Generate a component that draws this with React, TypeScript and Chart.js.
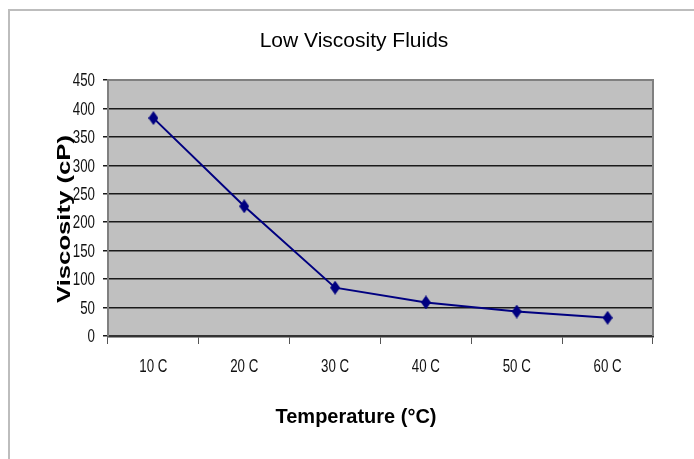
import React, { useEffect, useRef } from "react";
import { Chart, registerables } from "chart.js";

Chart.register(...registerables);

const chartTitle = "Low Viscosity Fluids";
const xAxisTitle = "Temperature (°C)";
const yAxisTitle = "Viscosity (cP)";
const categories = ["10 C", "20 C", "30 C", "40 C", "50 C", "60 C"];
const viscosity = [383, 228, 85, 59, 43, 32];
const yMin = 0;
const yMax = 450;
const yStep = 50;

const SANS = "'Liberation Sans', Arial, sans-serif";

function makeDiamond(): HTMLCanvasElement {
  const c = document.createElement("canvas");
  c.width = 10;
  c.height = 14;
  const g = c.getContext("2d")!;
  g.fillStyle = "#000080";
  g.beginPath();
  g.moveTo(5, 0);
  g.lineTo(10, 7);
  g.lineTo(5, 14);
  g.lineTo(0, 7);
  g.closePath();
  g.fill();
  return c;
}

function drawNarrow(ctx: CanvasRenderingContext2D, text: string, x: number, y: number, align: "right" | "center", sx: number) {
  ctx.save();
  ctx.translate(x, y);
  ctx.scale(sx, 1);
  ctx.textAlign = align;
  ctx.fillText(text, 0, 0);
  ctx.restore();
}

const decorPlugin = {
  id: "decor",
  beforeDraw(chart: any) {
    const { ctx, chartArea } = chart;
    ctx.save();
    ctx.fillStyle = "#c0c0c0";
    ctx.fillRect(chartArea.left, chartArea.top, chartArea.right - chartArea.left, chartArea.bottom - chartArea.top);
    ctx.restore();
  },
  afterDraw(chart: any) {
    const { ctx, chartArea } = chart;
    const xs = chart.scales.x;
    const ys = chart.scales.y;
    ctx.save();
    // plot frame (top, right)
    ctx.strokeStyle = "#808080";
    ctx.lineWidth = 2;
    ctx.beginPath();
    ctx.moveTo(chartArea.left, chartArea.top);
    ctx.lineTo(chartArea.right, chartArea.top);
    ctx.lineTo(chartArea.right, chartArea.bottom);
    ctx.stroke();

    // tick labels (condensed)
    ctx.fillStyle = "#111";
    ctx.font = `19px ${SANS}`;
    ctx.textBaseline = "middle";
    ys.ticks.forEach((t: any) => {
      const py = ys.getPixelForValue(t.value);
      drawNarrow(ctx, String(t.value), chartArea.left - 13, py + 1, "right", 0.7);
    });
    categories.forEach((lab, i) => {
      const px = xs.getPixelForValue(i);
      drawNarrow(ctx, lab, px, 367, "center", 0.7);
    });

    ctx.fillStyle = "#000";
    ctx.textBaseline = "alphabetic";
    // chart title
    ctx.font = `21px ${SANS}`;
    ctx.textAlign = "center";
    ctx.fillText(chartTitle, 354, 46.5);
    // x axis title
    ctx.font = `bold 20px ${SANS}`;
    ctx.fillText(xAxisTitle, 356, 423);
    // y axis title (rotated)
    ctx.font = `bold 19px ${SANS}`;
    const w = ctx.measureText(yAxisTitle).width;
    const target = 168;
    ctx.translate(70, 219);
    ctx.rotate(-Math.PI / 2);
    ctx.scale(target / w, 1);
    ctx.textAlign = "center";
    ctx.fillText(yAxisTitle, 0, 0);
    ctx.restore();
  },
};

export default function App() {
  const canvasRef = useRef<HTMLCanvasElement | null>(null);

  useEffect(() => {
    if (!canvasRef.current) return;
    const diamond = makeDiamond();
    const chart = new Chart(canvasRef.current, {
      type: "line",
      data: {
        labels: categories,
        datasets: [
          {
            label: "Viscosity",
            data: viscosity,
            borderColor: "#000080",
            backgroundColor: "#000080",
            borderWidth: 2,
            pointStyle: diamond as any,
            pointRadius: 5,
            pointHoverRadius: 5,
            tension: 0,
            fill: false,
          },
        ],
      },
      options: {
        animation: false,
        responsive: false,
        maintainAspectRatio: false,
        layout: { padding: { left: 0, top: 80, right: 41, bottom: 0 } },
        plugins: {
          legend: { display: false },
          title: { display: false },
          tooltip: { enabled: false },
        },
        scales: {
          x: {
            type: "category",
            offset: true,
            afterFit: (scale: any) => {
              scale.height = 123;
            },
            grid: {
              display: true,
              offset: true,
              drawOnChartArea: false,
              drawTicks: true,
              tickLength: 8,
              tickColor: "#555",
              tickWidth: 1,
            },
            border: { display: true, color: "#333", width: 2.5 },
            ticks: { display: false, autoSkip: false },
          },
          y: {
            min: yMin,
            max: yMax,
            afterFit: (scale: any) => {
              scale.width = 108;
            },
            grid: {
              color: "#1a1a1a",
              lineWidth: 1.5,
              tickLength: 5,
              tickColor: "#1a1a1a",
            },
            border: { display: true, color: "#808080", width: 2 },
            ticks: { display: false, stepSize: yStep },
          },
        },
      },
      plugins: [decorPlugin],
    });
    return () => chart.destroy();
  }, []);

  return (
    <div style={{ position: "fixed", left: 0, top: 0, width: 694, height: 459, background: "#fff" }}>
      <div
        style={{
          position: "absolute",
          left: 8,
          top: 9,
          width: 700,
          height: 460,
          borderLeft: "2px solid #bdbdbd",
          borderTop: "2px solid #bdbdbd",
        }}
      />
      <canvas
        ref={canvasRef}
        width={694}
        height={459}
        style={{ position: "absolute", left: 0, top: 0, width: 694, height: 459 }}
      />
    </div>
  );
}
